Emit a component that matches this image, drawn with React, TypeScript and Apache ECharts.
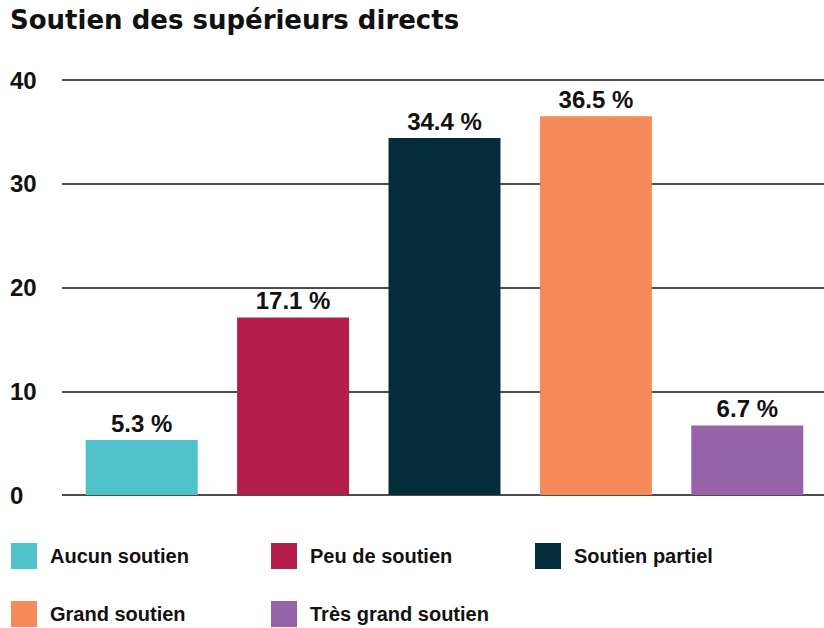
import React, { useEffect, useRef } from "react";
import * as echarts from "echarts";

const title = "Soutien des supérieurs directs";
const categories = ["Aucun soutien", "Peu de soutien", "Soutien partiel", "Grand soutien", "Très grand soutien"];
const values = [5.3, 17.1, 34.4, 36.5, 6.7];
const colors = ["#4FC1C9", "#B31E4B", "#052C3B", "#F68A5B", "#9663A8"];
const yTicks = [0, 10, 20, 30, 40];

const legendPos = [
  { left: 11, top: 543 },
  { left: 271, top: 543 },
  { left: 535, top: 543 },
  { left: 11, top: 601 },
  { left: 271, top: 601 },
];

export default function App() {
  const ref = useRef<HTMLDivElement>(null);
  useEffect(() => {
    if (!ref.current) return;
    const chart = echarts.init(ref.current, null, { renderer: "svg" });
    const font = "'Liberation Sans', Arial, sans-serif";
    const series = categories.map((name, i) => ({
      name,
      type: "bar",
      xAxisIndex: 1,
      yAxisIndex: 1,
      stack: "all",
      barWidth: 112,
      itemStyle: { color: colors[i] },
      label: {
        show: true,
        position: "top",
        distance: 5,
        formatter: "{c} %",
        fontFamily: font,
        fontWeight: "bold",
        fontSize: 24,
        color: "#111",
      },
      data: categories.map((_, j) => (j === i ? values[i] : "-")),
    }));
    chart.setOption({
      animation: false,
      title: {
        text: title,
        left: 10,
        top: 7,
        padding: 0,
        textStyle: { fontFamily: "'DejaVu Sans', sans-serif", fontWeight: "bold", fontSize: 26, color: "#111" },
      },
      legend: categories.map((name, i) => ({
        data: [name],
        left: legendPos[i].left,
        top: legendPos[i].top,
        padding: 0,
        itemWidth: 26,
        itemHeight: 26,
        icon: "rect",
        selectedMode: false,
        textStyle: { fontFamily: font, fontWeight: "bold", fontSize: 20, color: "#111", padding: [0, 0, 0, 8] },
      })),
      grid: [
        { left: 62, right: 0, top: 80, bottom: 133 },
        { left: 66, right: 1, top: 80, bottom: 133 },
      ],
      xAxis: [
        { type: "value", gridIndex: 0, show: false, min: 0, max: 1 },
        {
          type: "category",
          gridIndex: 1,
          data: categories,
          axisLine: { show: false },
          axisTick: { show: false },
          axisLabel: { show: false },
        },
      ],
      yAxis: [
        {
          type: "value",
          gridIndex: 0,
          min: yTicks[0],
          max: yTicks[yTicks.length - 1],
          interval: 10,
          axisLine: { show: false },
          axisTick: { show: false },
          splitLine: { lineStyle: { color: "#111", width: 1.6 } },
          axisLabel: {
            align: "left",
            margin: 52,
            fontFamily: font,
            fontWeight: "bold",
            fontSize: 24,
            color: "#111",
          },
        },
        {
          type: "value",
          gridIndex: 1,
          min: yTicks[0],
          max: yTicks[yTicks.length - 1],
          interval: 10,
          show: false,
          splitLine: { show: false },
        },
      ],
      series,
    });
    return () => chart.dispose();
  }, []);
  return <div ref={ref} style={{ width: 824, height: 628, position: "absolute", left: 0, top: 0, background: "#fff" }} />;
}
